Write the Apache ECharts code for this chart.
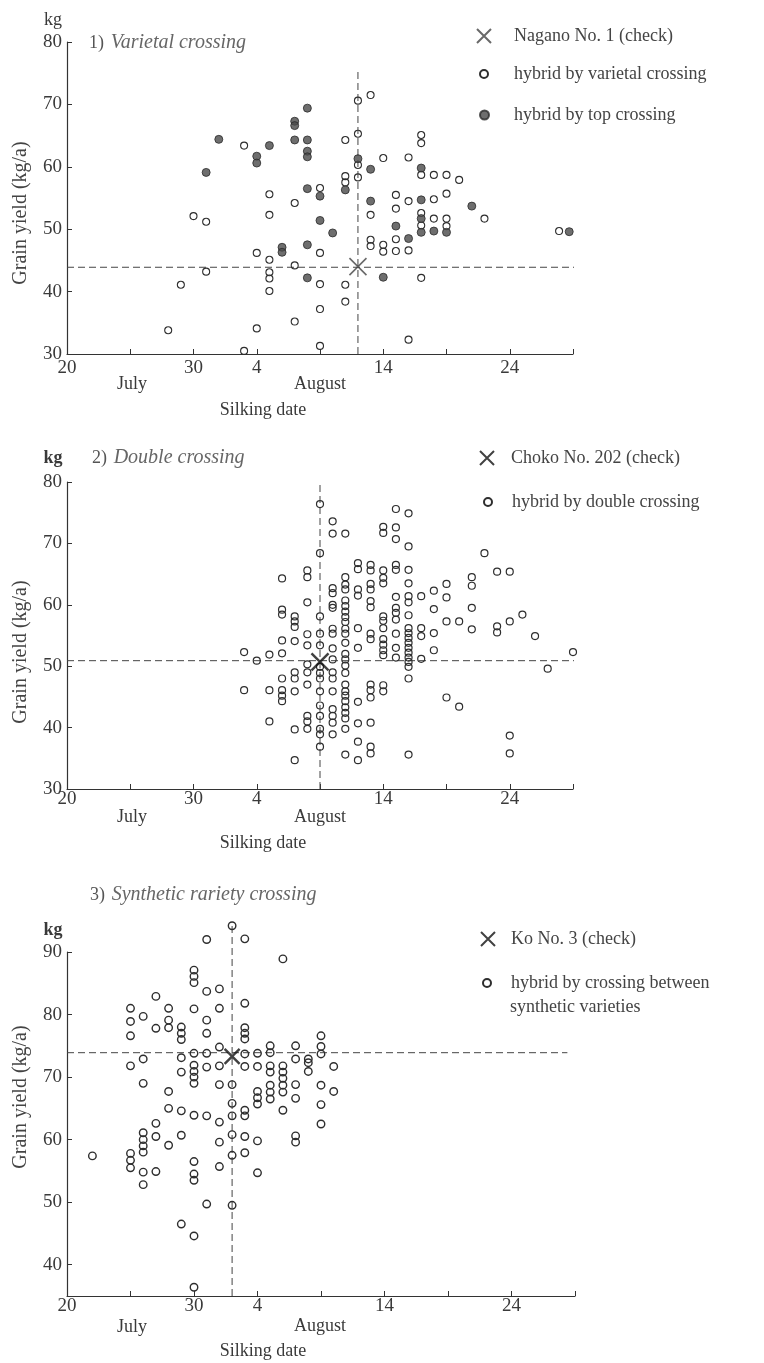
<!DOCTYPE html>
<html><head><meta charset="utf-8">
<script src="https://cdn.jsdelivr.net/npm/echarts@6/dist/echarts.min.js"></script>
<style>html,body{margin:0;padding:0;background:#fff}#c{width:764px;height:1363px}</style>
</head><body><div id="c"></div>
<script>
// Silking date as day number counted from 1 July (20 = 20 July, 30 = 30 July, 35 = 4 Aug, 45 = 14 Aug, 55 = 24 Aug)
const xTickValues = [20, 25, 30, 35, 40, 45, 50, 55, 60];
const xLabelValues = [20, 30, 35, 45, 55];
const xLabelTexts = ['20', '30', '4', '14', '24'];
const yTicksA = [30, 40, 50, 60, 70, 80];
const yTicksB = [40, 50, 60, 70, 80, 90];

// ---------- Panel 1: Varietal crossing ----------
const p1Check = [[43, 44.0]];
const p1Varietal = [
  [44,71.5],[43,70.6],[43,65.3],[42,64.3],[34,63.4],[45,61.4],[47,61.5],[48,65.1],[48,63.8],[43,60.3],
  [43,58.3],[42,58.5],[42,57.5],[48,58.7],[49,58.7],[50,58.7],[51,57.9],[40,56.6],[36,55.6],[38,54.2],
  [46,55.5],[47,54.5],[49,54.8],[50,55.7],[46,53.3],[48,52.6],[44,52.3],[36,52.3],[30,52.1],[31,51.2],
  [49,51.7],[50,51.7],[50,50.5],[53,51.7],[48,50.6],[58.9,49.7],[44,48.3],[44,47.3],[45,47.5],[45,46.4],
  [46,48.4],[46,46.5],[47,46.6],[35,46.2],[40,46.2],[36,45.1],[38,44.2],[31,43.2],[36,43.1],[36,42.1],
  [36,40.1],[48,42.2],[29,41.1],[40,41.2],[42,41.1],[42,38.4],[40,37.2],[38,35.2],[35,34.1],[28,33.8],
  [47,32.3],[40,31.3],[34,30.5]
];
const p1Top = [
  [39,69.4],[38,67.3],[38,66.6],[32,64.4],[38,64.3],[39,64.3],[36,63.4],[35,61.7],[35,60.6],[39,62.5],
  [39,61.6],[43,61.3],[31,59.1],[44,59.6],[48,59.8],[39,56.5],[42,56.3],[40,55.3],[44,54.5],[48,54.7],
  [52,53.7],[40,51.4],[48,51.7],[46,50.5],[41,49.4],[48,49.5],[49,49.7],[50,49.5],[47,48.5],[59.7,49.6],
  [37,47.1],[37,46.3],[39,47.5],[39,42.2],[45,42.3]
];
const p1Guide = { x: 43, y: 43.9, top: 75.7, right: 60.7 };

// ---------- Panel 2: Double crossing ----------
const p2Check = [[40, 50.7]];
const p2Double = [
  [34,52.3],[34,46.1],[35,50.9],[36,51.9],[36,46.1],[36,41.0],
  [37,64.3],[37,59.2],[37,58.4],[37,54.2],[37,52.1],[37,48.0],[37,46.1],[37,45.2],[37,44.3],
  [38,58.1],[38,57.3],[38,56.4],[38,54.1],[38,49.0],[38,48.0],[38,45.9],[38,39.7],[38,34.7],
  [39,65.6],[39,64.5],[39,60.4],[39,55.2],[39,53.4],[39,50.3],[39,49.0],[39,47.0],[39,41.9],[39,41.0],[39,39.8],
  [40,76.4],[40,68.4],[40,58.1],[40,55.3],[40,53.4],[40,49.9],[40,48.9],[40,48.0],[40,45.9],[40,43.6],[40,41.9],[40,39.8],[40,38.9],[40,36.9],
  [41,73.6],[41,71.6],[41,62.7],[41,61.9],[41,60.0],[41,59.5],[41,56.1],[41,55.3],[41,52.9],[41,51.1],[41,49.0],[41,48.0],[41,45.9],[41,43.0],[41,41.9],[41,40.8],[41,38.9],
  [42,71.6],[42,64.5],[42,63.3],[42,62.5],[42,60.7],[42,59.8],[42,58.9],[42,58.0],[42,57.2],[42,56.1],[42,55.3],[42,53.8],[42,52.0],[42,51.1],[42,50.1],[42,48.9],[42,47.0],[42,45.9],[42,45.2],[42,44.3],[42,43.3],[42,42.4],[42,41.5],[42,39.8],[42,35.6],
  [43,66.8],[43,65.8],[43,62.5],[43,61.5],[43,56.2],[43,53.0],[43,44.2],[43,40.7],[43,37.7],[43,34.7],
  [44,66.5],[44,65.6],[44,63.4],[44,62.5],[44,60.6],[44,59.6],[44,55.3],[44,54.4],[44,47.0],[44,46.1],[44,44.9],[44,40.8],[44,36.9],[44,35.8],
  [45,72.7],[45,71.7],[45,65.6],[45,64.4],[45,63.5],[45,58.1],[45,57.4],[45,56.2],[45,54.4],[45,53.5],[45,52.6],[45,51.8],[45,46.9],[45,45.9],
  [46,75.6],[46,72.6],[46,70.7],[46,66.5],[46,65.7],[46,61.3],[46,59.5],[46,58.7],[46,57.6],[46,55.3],[46,53.0],[46,51.4],
  [47,74.9],[47,69.5],[47,65.7],[47,63.5],[47,61.4],[47,60.4],[47,58.3],[47,56.2],[47,55.4],[47,54.6],[47,53.8],[47,53.0],[47,52.2],[47,51.4],[47,50.7],[47,49.9],[47,48.0],[47,35.6],
  [48,61.4],[48,56.2],[48,54.9],[48,51.2],
  [49,62.3],[49,59.3],[49,55.4],[49,52.6],
  [50,63.4],[50,61.2],[50,57.3],[50,44.9],
  [51,57.3],[51,43.4],
  [52,64.5],[52,63.1],[52,59.5],[52,56.0],
  [53,68.4],
  [54,65.4],[54,56.5],[54,55.5],
  [55,65.4],[55,57.3],[55,38.7],[55,35.8],
  [56,58.4],[57,54.9],[58,49.6],[60,52.3]
];
const p2Guide = { x: 40, y: 50.9, top: 80, right: 61.7 };

// ---------- Panel 3: Synthetic variety crossing ----------
const p3Check = [[33, 73.3]];
const p3Synthetic = [
  [22,57.4],
  [25,81.0],[25,78.9],[25,76.6],[25,71.8],[25,57.8],[25,56.7],[25,55.5],
  [26,79.7],[26,72.9],[26,69.0],[26,61.1],[26,60.0],[26,59.0],[26,58.0],[26,54.8],[26,52.8],
  [27,82.9],[27,77.8],[27,62.6],[27,60.5],[27,54.9],
  [28,81.0],[28,79.1],[28,77.9],[28,67.7],[28,65.0],[28,59.1],
  [29,78.0],[29,77.0],[29,76.0],[29,73.1],[29,70.8],[29,64.6],[29,60.7],[29,46.5],
  [30,87.1],[30,86.1],[30,85.1],[30,80.9],[30,73.8],[30,71.9],[30,70.9],[30,70.0],[30,69.0],[30,63.9],[30,56.5],[30,54.5],[30,53.5],[30,44.6],[30,36.4],
  [31,92.0],[31,83.7],[31,79.1],[31,77.0],[31,73.8],[31,71.6],[31,63.8],[31,49.7],
  [32,84.1],[32,81.0],[32,74.8],[32,71.8],[32,68.8],[32,62.8],[32,59.6],[32,55.7],
  [33,94.2],[33,68.8],[33,65.8],[33,63.8],[33,60.8],[33,57.5],[33,49.5],
  [34,92.1],[34,81.8],[34,77.9],[34,77.0],[34,76.1],[34,73.7],[34,71.7],[34,64.7],[34,63.8],[34,60.5],[34,57.9],
  [35,73.8],[35,71.7],[35,67.7],[35,66.7],[35,65.7],[35,59.8],[35,54.7],
  [36,75.0],[36,73.9],[36,71.8],[36,70.8],[36,68.7],[36,67.6],[36,66.5],
  [37,88.9],[37,71.8],[37,70.8],[37,69.8],[37,68.7],[37,67.6],[37,64.7],
  [38,75.0],[38,72.9],[38,68.8],[38,66.6],[38,60.6],[38,59.6],
  [39,72.9],[39,72.3],[39,70.9],
  [40,76.6],[40,74.9],[40,73.7],[40,68.7],[40,65.6],[40,62.5],
  [41,71.7],[41,67.7]
];
const p3Guide = { x: 33, y: 73.9, top: 94.8, right: 59.4 };

// ---------- styling ----------
const SERIF = '"Liberation Serif", "DejaVu Serif", serif';
const XPATH = 'path://M0,0L10,10M10,0L0,10';
const TXT = '#3a3a3a';

function xAxis(i, margin) {
  return {
    type: 'value', gridIndex: i, min: 20, max: 60,
    axisLine: { lineStyle: { color: '#333', width: 1.2 } },
    axisTick: { inside: true, length: 5, customValues: xTickValues, lineStyle: { color: '#333' } },
    axisLabel: {
      customValues: xLabelValues, margin: margin,
      formatter: v => xLabelTexts[xLabelValues.indexOf(v)] || '',
      fontFamily: SERIF, fontSize: 19, color: TXT
    },
    splitLine: { show: false }
  };
}
function yAxis(i, min, max, ticks) {
  return {
    type: 'value', gridIndex: i, min: min, max: max,
    axisLine: { show: true, lineStyle: { color: '#333', width: 1.2 } },
    axisTick: { show: true, inside: true, length: 5, customValues: ticks, lineStyle: { color: '#333' } },
    axisLabel: { customValues: ticks, margin: 5, fontFamily: SERIF, fontSize: 19, color: TXT },
    splitLine: { show: false }
  };
}
function openSeries(name, i, data, size, bw) {
  return { type: 'scatter', name, xAxisIndex: i, yAxisIndex: i, data, clip: false,
    symbol: 'circle', symbolSize: size, z: 3,
    itemStyle: { color: 'rgba(255,255,255,0)', borderColor: '#2e2e2e', borderWidth: bw, opacity: 1 } };
}
function filledSeries(name, i, data) {
  return { type: 'scatter', name, xAxisIndex: i, yAxisIndex: i, data, clip: false,
    symbol: 'circle', symbolSize: 8, z: 4,
    itemStyle: { color: '#4a4a4a', borderColor: '#2a2a2a', borderWidth: 1 } };
}
function checkSeries(name, i, data, size, width, color) {
  return { type: 'scatter', name, xAxisIndex: i, yAxisIndex: i, data, clip: false,
    symbol: XPATH, symbolSize: size, z: 6,
    itemStyle: { color: 'rgba(0,0,0,0)', borderColor: color, borderWidth: width } };
}
function guideSeries(i, pts) {
  return { type: 'line', xAxisIndex: i, yAxisIndex: i, data: pts, clip: false, silent: true,
    symbol: 'none', z: 2, animation: false,
    lineStyle: { color: '#444', width: 1, type: [7, 4] } };
}
function legendItem(name, left, top, w, h, padLeft, fmt) {
  const o = { data: [name], left, top, padding: 0, itemWidth: w, itemHeight: h, selectedMode: false,
    textStyle: { fontFamily: SERIF, fontSize: 18, color: '#444', padding: [0, 0, 0, padLeft], lineHeight: 24 } };
  if (fmt) o.formatter = fmt;
  return o;
}

const g = (t, x, y, o) => Object.assign({ type: 'text', x, y, silent: true,
  style: Object.assign({ text: t, fontFamily: SERIF, fontSize: 18, fill: TXT, align: 'center', verticalAlign: 'middle' }, o || {}) });
function title(num, label, x, y) {
  return { type: 'text', x, y, silent: true, style: {
    text: '{n|' + num + ')}  {i|' + label + '}', verticalAlign: 'middle', align: 'left',
    rich: { n: { fontFamily: SERIF, fontSize: 18, fill: '#555' },
            i: { fontFamily: SERIF, fontSize: 20, fontStyle: 'italic', fill: '#666' } } } };
}
function yName(x, y) {
  return { type: 'text', x, y, rotation: Math.PI / 2, silent: true,
    style: { text: 'Grain yield (kg/a)', fontFamily: SERIF, fontSize: 20, fill: '#444', align: 'center', verticalAlign: 'middle' } };
}

const N1 = 'Nagano No. 1 (check)', N2 = 'hybrid by varietal crossing', N3 = 'hybrid by top crossing';
const M1 = 'Choko No. 202 (check)', M2 = 'hybrid by double crossing';
const K1 = 'Ko No. 3 (check)', K2 = 'hybrid by crossing between synthetic varieties';

const option = {
  animation: false,
  backgroundColor: '#fff',
  grid: [
    { left: 67, top: 42, width: 506, height: 312 },
    { left: 67, top: 482, width: 506, height: 307 },
    { left: 67, top: 952, width: 508, height: 344 }
  ],
  xAxis: [xAxis(0, 5), xAxis(1, 1), xAxis(2, 1)],
  yAxis: [yAxis(0, 30, 80, yTicksA), yAxis(1, 30, 80, yTicksA), yAxis(2, 35, 90, yTicksB)],
  legend: [
    legendItem(N1, 476, 24, 14, 14, 18),
    legendItem(N2, 479, 62, 8, 8, 21),
    legendItem(N3, 479, 103, 9, 9, 20),
    legendItem(M1, 479, 446, 14, 14, 12),
    legendItem(M2, 483, 490, 8, 8, 15),
    legendItem(K1, 480, 927, 14, 14, 11),
    legendItem(K2, 482, 971, 8, 8, 15, () => 'hybrid by crossing between')
  ],
  series: [
    guideSeries(0, [[p1Guide.x, 30], [p1Guide.x, p1Guide.top]]),
    guideSeries(0, [[20, p1Guide.y], [p1Guide.right, p1Guide.y]]),
    openSeries(N2, 0, p1Varietal, 7, 1.1),
    filledSeries(N3, 0, p1Top),
    checkSeries(N1, 0, p1Check, 17, 1.6, '#444'),

    guideSeries(1, [[p2Guide.x, 30], [p2Guide.x, p2Guide.top]]),
    guideSeries(1, [[20, p2Guide.y], [p2Guide.right, p2Guide.y]]),
    openSeries(M2, 1, p2Double, 7, 1.2),
    checkSeries(M1, 1, p2Check, 17, 2.4, '#111'),

    guideSeries(2, [[p3Guide.x, 35], [p3Guide.x, p3Guide.top]]),
    guideSeries(2, [[20, p3Guide.y], [p3Guide.right, p3Guide.y]]),
    openSeries(K2, 2, p3Synthetic, 7.5, 1.4),
    checkSeries(K1, 2, p3Check, 15, 2.4, '#111')
  ],
  graphic: [
    g('kg', 53, 20),
    title('1', 'Varietal crossing', 89, 43),
    yName(21, 213),
    g('July', 132, 384), g('August', 320, 384), g('Silking date', 263, 410),

    g('kg', 53, 458, { fontWeight: 'bold' }),
    title('2', 'Double crossing', 92, 458),
    yName(21, 652),
    g('July', 132, 817), g('August', 320, 817), g('Silking date', 263, 843),

    title('3', 'Synthetic rariety crossing', 90, 895),
    g('kg', 53, 930, { fontWeight: 'bold' }),
    yName(21, 1097),
    g('July', 132, 1327), g('August', 320, 1326), g('Silking date', 263, 1351),
    g('synthetic varieties', 510, 1007, { align: 'left', fill: '#444' })
  ]
};
const chart = echarts.init(document.getElementById('c'), null, { renderer: 'canvas' });
chart.setOption(option);
</script></body></html>
